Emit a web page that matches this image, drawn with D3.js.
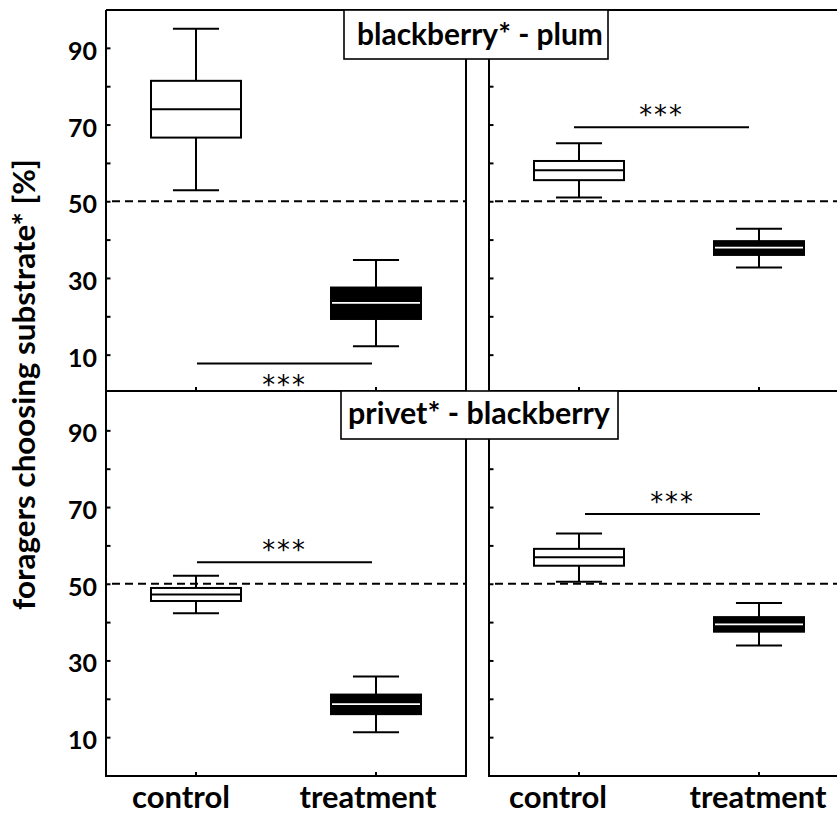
<!DOCTYPE html>
<html><head><meta charset="utf-8">
<script src="https://cdn.jsdelivr.net/npm/d3@7"></script>
<style>body{margin:0;background:#fff}svg{display:block}</style>
</head><body><svg id="c" width="837" height="816"></svg>
<script>
// ---------------- data ----------------
const categories = ["control", "treatment"];
const panelTitles = ["blackberry* - plum", "privet* - blackberry"];
const yTicks = [10, 20, 30, 40, 50, 60, 70, 80, 90];
const yTickLabels = [10, 30, 50, 70, 90];
const chanceLevel = 50;
// [lower whisker, Q1, median, Q3, upper whisker]
const topLeftControl      = [52.9, 66.6, 74.0, 81.4, 95.0];
const topLeftTreatment    = [12.2, 19.3, 23.5, 27.5, 34.7];
const topRightControl     = [51.0, 55.5, 58.1, 60.5, 65.1];
const topRightTreatment   = [32.7, 36.0, 37.9, 39.6, 42.8];
const bottomLeftControl   = [42.3, 45.5, 47.2, 48.9, 52.1];
const bottomLeftTreatment = [11.3, 16.0, 18.6, 21.1, 25.8];
const bottomRightControl  = [50.5, 54.7, 56.9, 59.1, 63.1];
const bottomRightTreatment= [33.9, 37.5, 39.4, 41.3, 45.0];
const significanceLevels  = [7.7, 69.3, 55.6, 68.2];
const significanceLabels  = ["***", "***", "***", "***"];
const yAxisTitle = "foragers choosing substrate* [%]";

// ---------------- layout ----------------
const FONT = "Lato, 'Open Sans', sans-serif";
const svg = d3.select("#c");
svg.append("rect").attr("width", 837).attr("height", 816).attr("fill", "#fff");

const colX = [[106, 466], [489, 849]];
const rowY = [{ range: [393, 9.5], top: 10, bottom: 391 }, { range: [775.5, 392], top: 391, bottom: 776 }];

const panels = [
  { row: 0, col: 0, boxes: [topLeftControl, topLeftTreatment], sig: 0, starBelow: true, sigShift: 0 },
  { row: 0, col: 1, boxes: [topRightControl, topRightTreatment], sig: 1, starBelow: false, sigShift: -6 },
  { row: 1, col: 0, boxes: [bottomLeftControl, bottomLeftTreatment], sig: 2, starBelow: false, sigShift: 0 },
  { row: 1, col: 1, boxes: [bottomRightControl, bottomRightTreatment], sig: 3, starBelow: false, sigShift: 5 }
];
const labelShift = [[-15, -8], [-21, -1]];

function fit(sel, w) {
  const l = sel.node().getComputedTextLength();
  const fs = parseFloat(sel.attr("font-size"));
  sel.attr("font-size", fs * w / l);
}

panels.forEach(p => {
  const x = d3.scaleBand().domain(categories).range(colX[p.col]);
  const R = rowY[p.row];
  const y = d3.scaleLinear().domain([0, 100]).range(R.range);
  const g = svg.append("g");
  const x0 = colX[p.col][0], x1 = Math.min(colX[p.col][1], 837);
  const bw = x.bandwidth() * 0.5, cw = x.bandwidth() * 0.256;

  // chance line
  g.append("line").attr("x1", x0 + 6).attr("x2", x1).attr("y1", y(chanceLevel)).attr("y2", y(chanceLevel))
    .attr("stroke", "#000").attr("stroke-width", 2).attr("stroke-dasharray", "8,5");

  // y axis
  const ya = d3.axisLeft(y).tickValues(yTicks).tickSizeInner(-4.5).tickSizeOuter(0).tickPadding(9)
    .tickFormat(d => (p.col === 0 && yTickLabels.includes(d)) ? d : "");
  const yg = g.append("g").attr("transform", `translate(${x0},0)`).call(ya);
  yg.select(".domain").remove();
  yg.selectAll("line").attr("stroke-width", 2);
  yg.selectAll("text").attr("font-family", FONT).attr("font-weight", "bold").attr("font-size", 25)
    .attr("fill", "#000").attr("dy", "0.46em");

  // x axis ticks
  const xa = d3.axisBottom(x).tickSizeInner(-4).tickSizeOuter(0).tickFormat("");
  const xg = g.append("g").attr("transform", `translate(0,${R.bottom})`).call(xa);
  xg.select(".domain").remove();
  xg.selectAll("line").attr("stroke-width", 2);

  // frame
  g.append("path").attr("fill", "none").attr("stroke", "#000").attr("stroke-width", 2)
    .attr("d", `M${x0},${R.top}V${R.bottom}H${x1}` + (p.col === 0 ? `V${R.top}` : ""));
  if (p.row === 0) g.append("line").attr("x1", x0).attr("x2", x1).attr("y1", R.top).attr("y2", R.top)
    .attr("stroke", "#000").attr("stroke-width", 2);
  if (p.row === 0 && p.col === 0) g.append("line").attr("x1", colX[0][1]).attr("x2", colX[1][0]).attr("y1", R.top).attr("y2", R.top)
    .attr("stroke", "#000").attr("stroke-width", 2);

  // boxes
  p.boxes.forEach((b, i) => {
    const cx = x(categories[i]) + x.bandwidth() / 2;
    const filled = i === 1;
    const bg = g.append("g");
    bg.append("line").attr("x1", cx).attr("x2", cx).attr("y1", y(b[0])).attr("y2", y(b[4]))
      .attr("stroke", "#000").attr("stroke-width", 2);
    [b[0], b[4]].forEach(v => bg.append("line").attr("x1", cx - cw / 2).attr("x2", cx + cw / 2)
      .attr("y1", y(v)).attr("y2", y(v)).attr("stroke", "#000").attr("stroke-width", 2));
    bg.append("rect").attr("x", cx - bw / 2).attr("width", bw).attr("y", y(b[3])).attr("height", y(b[1]) - y(b[3]))
      .attr("fill", filled ? "#000" : "#fff").attr("stroke", "#000").attr("stroke-width", 2);
    bg.append("line").attr("x1", cx - bw / 2 + (filled ? 1 : 0)).attr("x2", cx + bw / 2 - (filled ? 1 : 0))
      .attr("y1", y(b[2])).attr("y2", y(b[2]))
      .attr("stroke", filled ? "#fff" : "#000").attr("stroke-width", filled ? 1.8 : 2);
  });

  // significance
  const sx1 = x(categories[0]) + x.bandwidth() / 2 + 1 + p.sigShift;
  const sx2 = x(categories[1]) + x.bandwidth() / 2 - 4 + p.sigShift;
  const sy = y(significanceLevels[p.sig]);
  g.append("line").attr("x1", sx1).attr("x2", sx2).attr("y1", sy).attr("y2", sy)
    .attr("stroke", "#000").attr("stroke-width", 2);
  const st = g.append("text").text(significanceLabels[p.sig]).attr("x", (sx1 + sx2) / 2)
    .attr("y", p.starBelow ? sy + 31 : sy - 3).attr("text-anchor", "middle")
    .attr("font-family", "'DejaVu Sans', sans-serif").attr("font-size", 24).attr("letter-spacing", 2).attr("fill", "#000");
  fit(st, 45);

  // x labels (bottom row only)
  if (p.row === 1) categories.forEach((c, i) => {
    const t = svg.append("text").text(c).attr("x", x(c) + x.bandwidth() / 2 + labelShift[p.col][i]).attr("y", 808)
      .attr("text-anchor", "middle").attr("font-family", FONT).attr("font-weight", "bold").attr("font-size", 26).attr("fill", "#000");
    fit(t, i === 0 ? 98 : 137);
  });
});

// panel titles
const titleBoxes = [{ x: 344, y: 10, w: 264, h: 49, cx: 480, base: 44.5, tw: 246 },
                    { x: 341, y: 391, w: 277, h: 48, cx: 479, base: 423.5, tw: 262 }];
panelTitles.forEach((t, i) => {
  const b = titleBoxes[i];
  svg.append("rect").attr("x", b.x).attr("y", b.y).attr("width", b.w).attr("height", b.h)
    .attr("fill", "#fff").attr("stroke", "#000").attr("stroke-width", 1.6);
  const tx = svg.append("text").text(t).attr("x", b.cx).attr("y", b.base).attr("text-anchor", "middle")
    .attr("font-family", FONT).attr("font-weight", "bold").attr("font-size", 26).attr("fill", "#000");
  fit(tx, b.tw);
});

// y axis title
const yt = svg.append("text").text(yAxisTitle).attr("transform", "translate(35,384.5) rotate(-90)")
  .attr("text-anchor", "middle").attr("font-family", FONT).attr("font-weight", "bold").attr("font-size", 25).attr("fill", "#000");
fit(yt, 451);
</script></body></html>
